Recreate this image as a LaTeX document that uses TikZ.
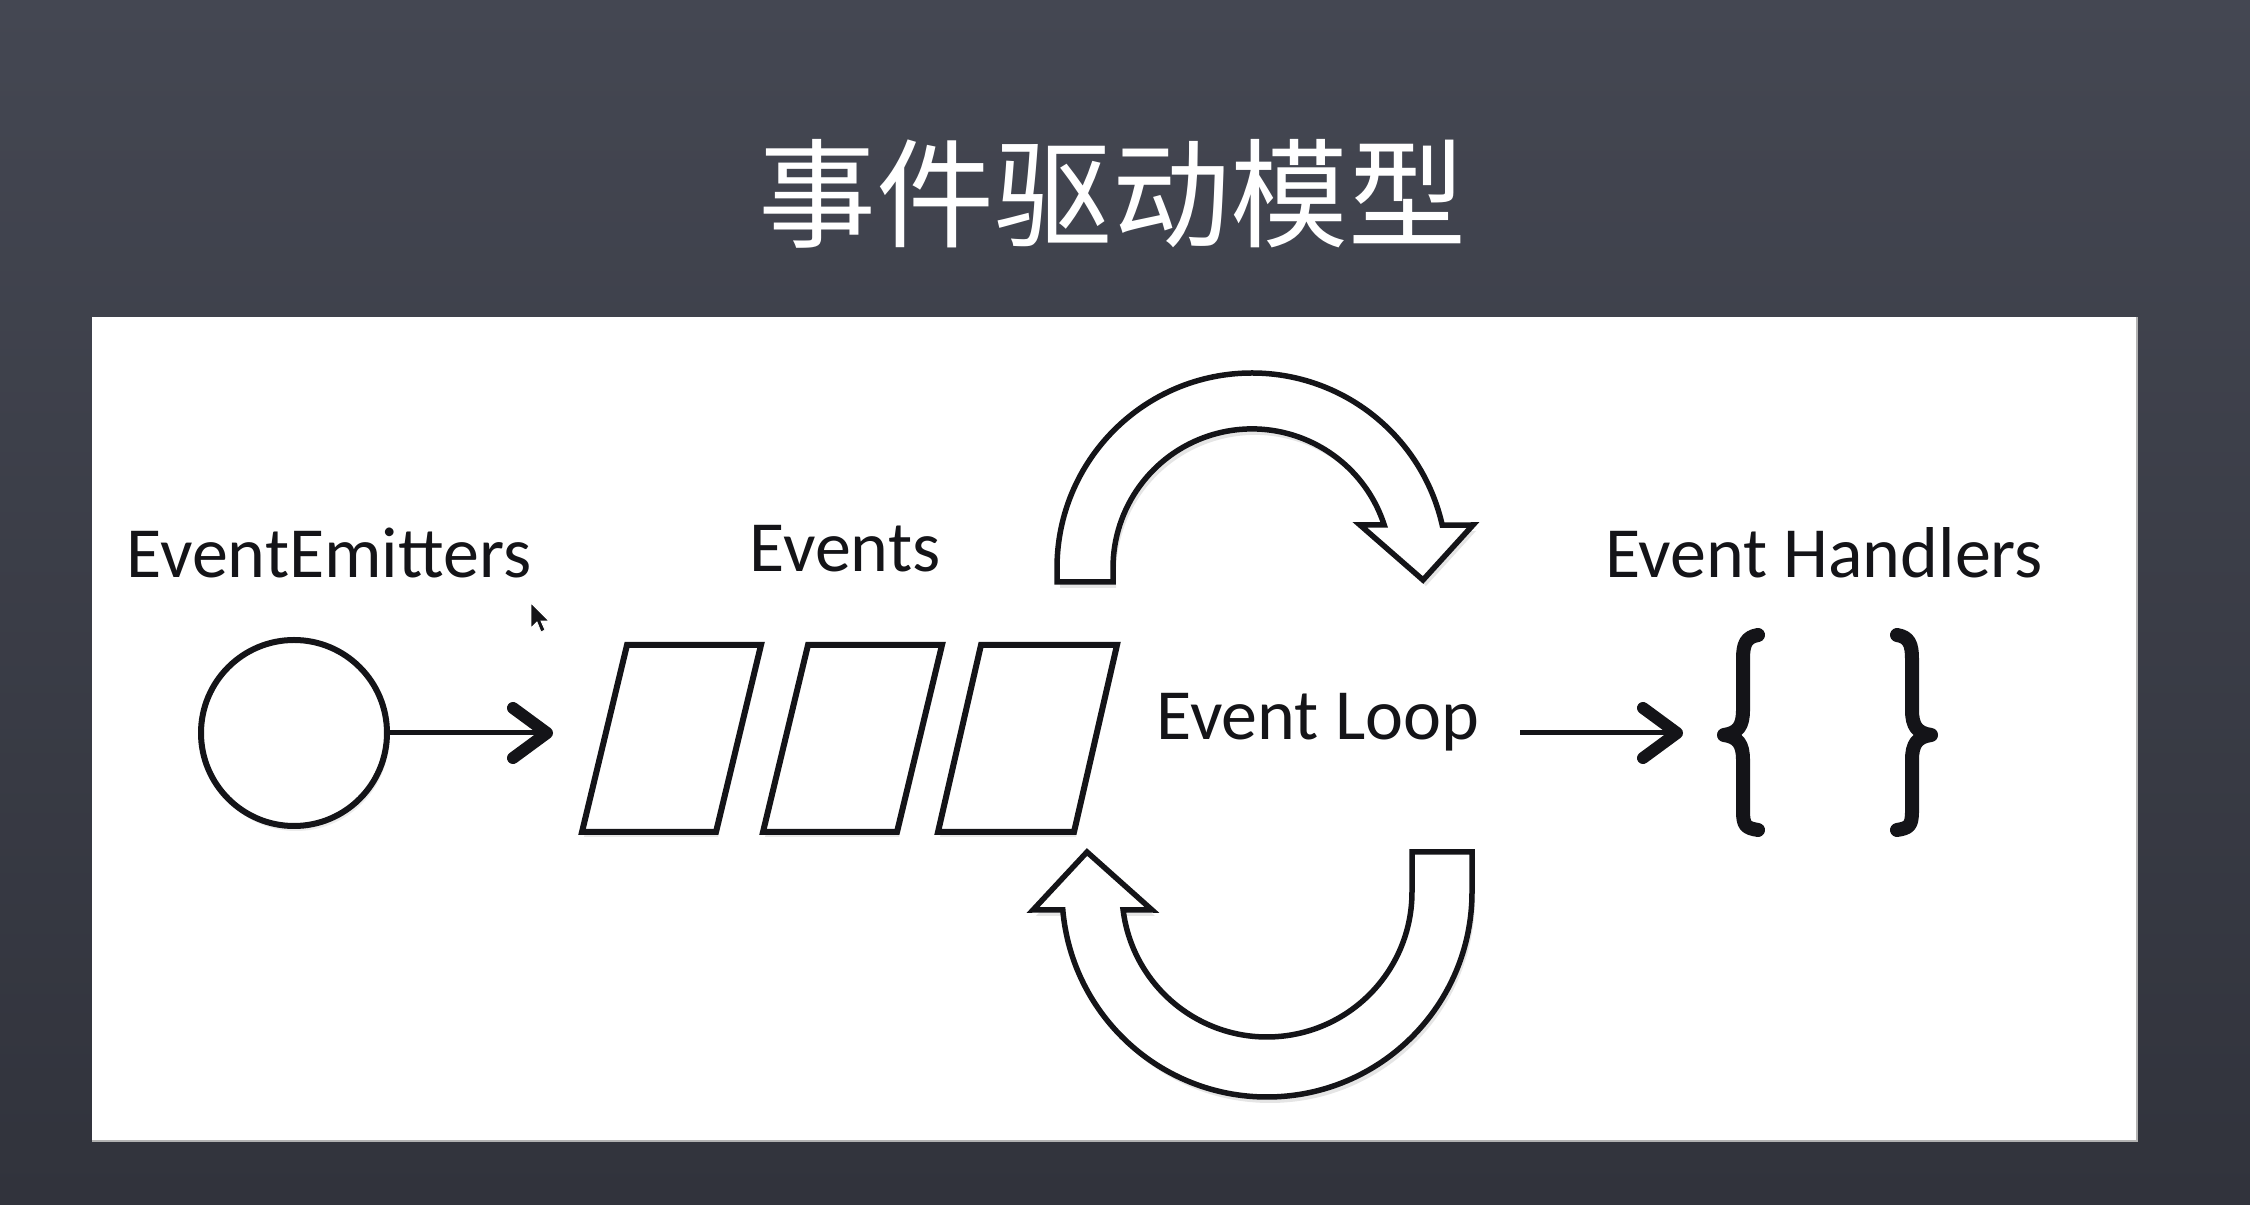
\documentclass[tikz,border=0pt]{standalone}
\usepackage{fontspec}
\setmainfont{Carlito}
\newfontfamily\cjk{Noto Sans CJK SC}
\usetikzlibrary{arrows.meta,shadows}
\definecolor{bgtop}{RGB}{68,71,82}
\definecolor{bgbot}{RGB}{49,51,60}
\definecolor{ink}{RGB}{20,20,24}
\begin{document}
\begin{tikzpicture}[x=1pt,y=1pt,
  lbl/.style={font=\fontsize{72}{84}\selectfont, text=ink, inner sep=0pt, anchor=base},
  ptr/.style={draw=ink, line width=5pt, -{Straight Barb[length=34pt,width=50pt,line width=12pt,round]}},
  evbox/.style={draw=ink, line width=6pt, fill=white, line join=miter,
    drop shadow={shadow xshift=2pt, shadow yshift=-5pt, opacity=0.18}},
  bendarrow/.style={draw=ink, line width=5.5pt, fill=white, line join=miter,
    drop shadow={shadow xshift=3pt, shadow yshift=-6pt, opacity=0.2}},
  bracestroke/.style={draw=ink, line width=14pt, line cap=round, line join=round}
]
% background and bounding box
\shade[top color=bgtop, bottom color=bgbot] (0,0) rectangle (2250,1204);
\useasboundingbox (0,0) rectangle (2250,1204);

% white panel
\fill[white] (92,63) rectangle (2137,887);
\draw[gray!60, line width=2pt] (92,63) -- (2137,63) -- (2137,887);

% title
\node[font=\cjk\fontsize{118}{130}\selectfont, text=white, inner sep=0pt] (title) at (1112,1010) {事件驱动模型};

% labels
\node[lbl] (lblEmit) at (329,626) {EventEmitters};
\node[lbl] (lblEvents) at (845,632) {Events};
\node[lbl] (lblLoop) at (1318,464) {Event Loop};
\node[lbl] (lblHandlers) at (1824,626) {Event Handlers};

% emitter circle and arrow
\node[circle, draw=ink, line width=6pt, minimum size=186pt, inner sep=0pt,
  drop shadow={shadow xshift=2pt, shadow yshift=-5pt, opacity=0.15}, fill=white] (emit) at (294,471) {};
\coordinate (emitTip) at (553,471);
\draw[ptr] (emit) -- (emitTip);

% events (parallelograms)
\draw[evbox] (582,372) -- ++(134,0) -- ++(45,187) -- ++(-134,0) -- cycle;
\draw[evbox] (763,372) -- ++(134,0) -- ++(45,187) -- ++(-134,0) -- cycle;
\draw[evbox] (938,372) -- ++(136,0) -- ++(43,187) -- ++(-136,0) -- cycle;
\coordinate (ev1) at (671,465);
\coordinate (ev2) at (852,465);
\coordinate (ev3) at (1027,465);

% loop arrows
\draw[bendarrow] (1057,622) -- (1057,636) arc[start angle=180, end angle=12.7, radius=195]
  -- (1473,679) -- (1423,624) -- (1360,679) -- (1384.2,679)
  arc[start angle=18, end angle=180, radius=139] -- (1113,622) -- cycle;
\draw[bendarrow] (1472,352) -- (1472,312) arc[start angle=0, end angle=-175, radius=205]
  -- (1033,294) -- (1087,352) -- (1152,294) -- (1123.1,294.1)
  arc[start angle=-172.9, end angle=0, radius=145] -- (1412,352) -- cycle;

% loop -> handlers arrow
\coordinate (loopOut) at (1520,471);
\coordinate (handIn) at (1683,471);
\draw[ptr] (loopOut) -- (handIn);

% braces
\coordinate (braceL) at (1724,469);
\coordinate (braceR) at (1931,469);
\draw[bracestroke] (1758,569) .. controls (1746,567) and (1743,560) .. (1743,545)
  -- (1743,494) .. controls (1743,478) and (1738,471) .. (braceL)
  .. controls (1738,467) and (1743,460) .. (1743,444)
  -- (1743,393) .. controls (1743,378) and (1746,376) .. (1758,374);
\draw[bracestroke] (1897,569) .. controls (1909,567) and (1912,560) .. (1912,545)
  -- (1912,494) .. controls (1912,478) and (1917,471) .. (braceR)
  .. controls (1917,467) and (1912,460) .. (1912,444)
  -- (1912,393) .. controls (1912,378) and (1909,376) .. (1897,374);

% mouse pointer
\fill[ink, draw=white, line width=0.8pt] (531,601) -- (531,576) -- (537,582) -- (541,572)
  -- (545,574) -- (541,583) -- (549,583) -- cycle;
\end{tikzpicture}
\end{document}
